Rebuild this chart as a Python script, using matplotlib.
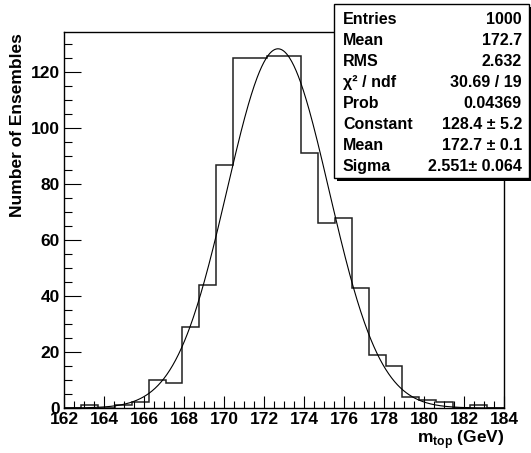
import numpy as np
import matplotlib
matplotlib.use("Agg")
import matplotlib.pyplot as plt
from matplotlib.ticker import MultipleLocator
from matplotlib.patches import Rectangle

plt.rcParams['font.family'] = ['Liberation Sans', 'DejaVu Sans']
plt.rcParams['font.weight'] = 'bold'
plt.rcParams['mathtext.fontset'] = 'custom'
plt.rcParams['mathtext.rm'] = 'Liberation Sans:bold'
plt.rcParams['mathtext.bf'] = 'Liberation Sans:bold'

# histogram: 26 bins from 162 to 184 GeV
x_lo, x_hi, n_bins = 162, 184, 26
counts = [0, 1, 0, 1, 2, 10, 9, 29, 44, 87, 125, 125, 126,
          126, 91, 66, 68, 43, 19, 15, 4, 3, 2, 0, 1, 0]

# gaussian fit parameters
fit_const = 128.4
fit_mean = 172.7
fit_sigma = 2.551

stat_labels = ['Entries', 'Mean', 'RMS', 'χ² / ndf', 'Prob',
               'Constant', 'Mean', 'Sigma']
stat_values = ['1000', '172.7', '2.632', '30.69 / 19', '0.04369',
               '128.4 ± 5.2', '172.7 ± 0.1', '2.551± 0.064']

edges = np.linspace(x_lo, x_hi, n_bins + 1)
xf = np.linspace(x_lo, x_hi, 600)
yf = fit_const * np.exp(-0.5 * ((xf - fit_mean) / fit_sigma) ** 2)

W, H = 531, 453
fig = plt.figure(figsize=(W / 100, H / 100), dpi=100)
ax = fig.add_axes([64 / W, 1 - 408 / H, 440 / W, 376 / H])

ax.stairs(counts, edges, color='#202020', lw=1.1)
ax.plot(xf, yf, color='black', lw=0.8)

ax.set_xlim(x_lo, x_hi)
ax.set_ylim(0, 134.4)
ax.xaxis.set_major_locator(MultipleLocator(2))
ax.xaxis.set_minor_locator(MultipleLocator(0.5))
ax.yaxis.set_major_locator(MultipleLocator(20))
ax.yaxis.set_minor_locator(MultipleLocator(5))
ax.tick_params(which='both', direction='in', top=False, right=False,
               labelsize=12.5, width=0.8)
ax.tick_params(axis='x', which='major', length=9, pad=3)
ax.tick_params(axis='x', which='minor', length=5)
ax.tick_params(axis='y', which='major', length=12, pad=3)
ax.tick_params(axis='y', which='minor', length=6)
for lab in ax.get_xticklabels() + ax.get_yticklabels():
    lab.set_fontweight('bold')
for s in ax.spines.values():
    s.set_linewidth(1.0)

fig.text(18 / W, 1 - 33 / H, 'Number of Ensembles', rotation=90,
         ha='center', va='top', fontsize=12.5, fontweight='bold')
fig.text(504 / W, 1 - 443 / H, r'm$_{\rm top}$ (GeV)',
         ha='right', va='baseline', fontsize=12.5, fontweight='bold')

# stats box
bx0, bx1 = 334 / W, 529 / W
by0, by1 = 1 - 178 / H, 1 - 4 / H
shadow = Rectangle((bx0 + 3 / W, by0 - 3 / H), bx1 - bx0, by1 - by0,
                   transform=fig.transFigure, facecolor='black',
                   edgecolor='black', lw=0, zorder=5)
box = Rectangle((bx0, by0), bx1 - bx0, by1 - by0, transform=fig.transFigure,
                facecolor='white', edgecolor='black', lw=1.0, zorder=6)
fig.add_artist(shadow)
fig.add_artist(box)
for i, (lab, val) in enumerate(zip(stat_labels, stat_values)):
    yc = 1 - (19 + i * 21.1) / H
    fig.text(bx0 + 9 / W, yc, lab, ha='left', va='center', fontsize=11.5,
             fontweight='bold', zorder=7)
    fig.text(bx1 - 7 / W, yc, val, ha='right', va='center', fontsize=11.5,
             fontweight='bold', zorder=7)

fig.savefig('out.png', dpi=100)
